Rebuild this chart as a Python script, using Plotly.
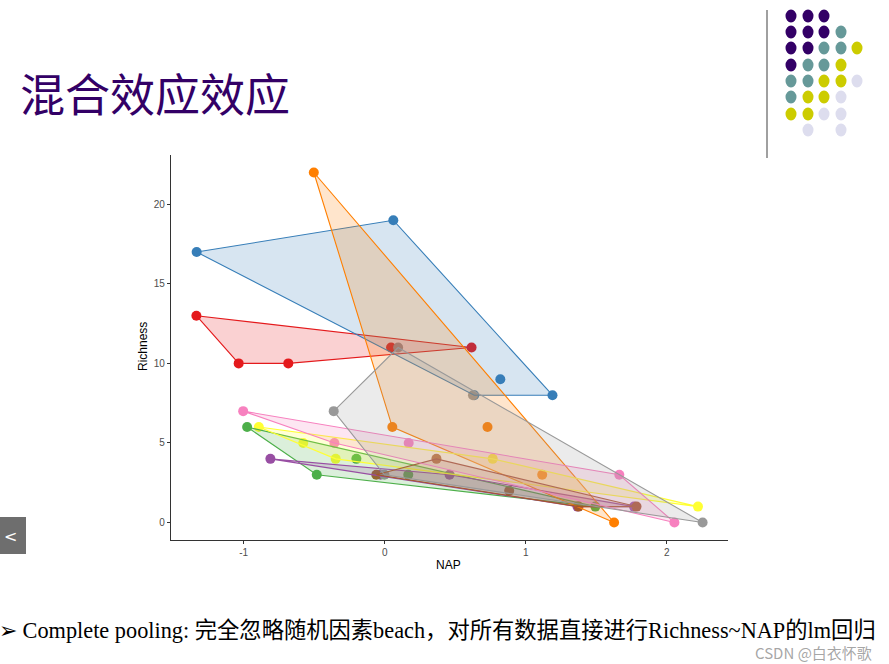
import plotly.graph_objects as go

# RIKZ data: beach, NAP, Richness
beach = [1]*5 + [2]*5 + [3]*5 + [4]*5 + [5]*5 + [6]*5 + [7]*5 + [8]*5 + [9]*5
nap = [0.045, -1.036, -1.336, 0.616, -0.684,
       1.190, 0.820, 0.635, 0.061, -1.334,
       -0.976, 1.494, -0.201, -0.482, 0.167,
       1.768, -0.030, 0.460, 1.367, -0.811,
       1.117, -0.503, 0.729, 1.627, 0.054,
       -0.578, -0.348, 2.222, -0.893, 0.766,
       0.883, 1.786, 1.375, -0.060, 0.367,
       -1.004, -0.357, 2.055, 1.664, 0.170,
       -0.002, -0.362, 0.095, 0.626, 2.255]
richness = [11, 10, 13, 11, 10,
            8, 9, 8, 19, 17,
            6, 1, 4, 3, 3,
            1, 3, 3, 1, 4,
            3, 22, 6, 0, 6,
            5, 4, 1, 6, 4,
            2, 1, 1, 3, 4,
            7, 5, 0, 3, 5,
            3, 7, 11, 8, 0]
colors = ["#E41A1C", "#377EB8", "#4DAF4A", "#984EA3", "#FF7F00",
          "#FFFF33", "#A65628", "#F781BF", "#999999"]

x_ticks = [-1, 0, 1, 2]
y_ticks = [0, 5, 10, 15, 20]

W, H = 889, 664

def px(x):
    return x / W

def py(y):
    return 1 - y / H

def hull(points):
    pts = sorted(set(points))
    if len(pts) <= 2:
        return pts
    def cross(o, a, b):
        return (a[0]-o[0])*(b[1]-o[1]) - (a[1]-o[1])*(b[0]-o[0])
    lower, upper = [], []
    for p in pts:
        while len(lower) >= 2 and cross(lower[-2], lower[-1], p) <= 0:
            lower.pop()
        lower.append(p)
    for p in reversed(pts):
        while len(upper) >= 2 and cross(upper[-2], upper[-1], p) <= 0:
            upper.pop()
        upper.append(p)
    return lower[:-1] + upper[:-1]

def rgba(hexc, a):
    h = hexc.lstrip("#")
    r, g, b = int(h[0:2], 16), int(h[2:4], 16), int(h[4:6], 16)
    return f"rgba({r},{g},{b},{a})"

fig = go.Figure()
beaches = sorted(set(beach))
for b in beaches:
    xs = [nap[i] for i in range(len(nap)) if beach[i] == b]
    ys = [richness[i] for i in range(len(nap)) if beach[i] == b]
    fig.add_trace(go.Scatter(x=xs, y=ys, mode="markers",
                             marker=dict(size=10, color=colors[b-1], line=dict(width=0)),
                             showlegend=False, hoverinfo="skip"))
for b in beaches:
    pts = [(nap[i], richness[i]) for i in range(len(nap)) if beach[i] == b]
    hp = hull(pts)
    hx = [p[0] for p in hp] + [hp[0][0]]
    hy = [p[1] for p in hp] + [hp[0][1]]
    fig.add_trace(go.Scatter(x=hx, y=hy, mode="lines", fill="toself",
                             fillcolor=rgba(colors[b-1], 0.2),
                             line=dict(color=colors[b-1], width=1.1),
                             showlegend=False, hoverinfo="skip"))

axis_common = dict(showgrid=False, zeroline=False, showline=True, linecolor="#333333",
                   linewidth=1.3, ticks="outside", ticklen=3, tickcolor="#333333",
                   tickfont=dict(family="Liberation Sans, Arial", size=10, color="#4D4D4D"))

fig.update_layout(
    width=W, height=H,
    margin=dict(l=0, r=0, t=0, b=0),
    paper_bgcolor="white", plot_bgcolor="white",
    xaxis=dict(domain=[px(171), px(728)], range=[-1.516, 2.435],
               tickvals=x_ticks, ticktext=[str(v) for v in x_ticks], **axis_common),
    yaxis=dict(domain=[py(540), py(155)], range=[-1.1, 23.1],
               tickvals=y_ticks, ticktext=[str(v) for v in y_ticks], **axis_common),
)

annotations = [
    dict(x=px(449), y=py(565), text="NAP", showarrow=False, xref="paper", yref="paper",
         xanchor="center", yanchor="middle",
         font=dict(family="Liberation Sans, Arial", size=12, color="black")),
    dict(x=px(143), y=py(347), text="Richness", showarrow=False, xref="paper", yref="paper",
         xanchor="center", yanchor="middle",
         textangle=-90, font=dict(family="Liberation Sans, Arial", size=12, color="black")),
    dict(x=px(18), y=py(93), text="混合效应效应", showarrow=False, xref="paper", yref="paper",
         xanchor="left", yanchor="middle",
         font=dict(family="Noto Sans CJK SC", size=45, color="#330066")),
    dict(x=px(-3), y=py(630), text="➢ Complete pooling: 完全忽略随机因素beach，对所有数据直接进行Richness~NAP的lm回归",
         showarrow=False, xref="paper", yref="paper", xanchor="left", yanchor="middle",
         font=dict(family="Liberation Serif, Noto Sans CJK SC", size=22.3, color="black")),
    dict(x=px(874), y=py(652), text="CSDN @白衣怀歌", showarrow=False, xref="paper", yref="paper",
         xanchor="right", yanchor="middle",
         font=dict(family="Noto Sans CJK SC", size=15, color="rgba(150,150,150,0.85)")),
    dict(x=px(10), y=py(536), text="<", showarrow=False, xref="paper", yref="paper",
         xanchor="center", yanchor="middle",
         font=dict(family="DejaVu Sans", size=16, color="white")),
]
fig.update_layout(annotations=annotations)

shapes = [
    dict(type="line", xref="paper", yref="paper", x0=px(767), x1=px(767), y0=py(10), y1=py(158),
         line=dict(color="#808080", width=1.5)),
    dict(type="rect", xref="paper", yref="paper", x0=px(-6), x1=px(26), y0=py(554), y1=py(517),
         fillcolor="#6E6E6E", line=dict(width=0)),
]

# decorative dot grid in the top-right corner
P, T, Y, L = "#330066", "#669999", "#CCCC00", "#DDDDEE"
dot_cols = [791, 808, 824, 841, 857]
dot_rows = [16, 32, 48, 65, 81, 97, 114, 130]
dot_grid = [
    [P, P, P, None, None],
    [P, P, P, T, None],
    [P, P, T, T, Y],
    [P, T, T, Y, None],
    [T, T, Y, Y, L],
    [T, Y, Y, L, None],
    [Y, Y, L, L, None],
    [None, L, None, L, None],
]
for r, row in enumerate(dot_grid):
    for c, col in enumerate(row):
        if col is None:
            continue
        cx, cy = dot_cols[c], dot_rows[r]
        shapes.append(dict(type="circle", xref="paper", yref="paper",
                           x0=px(cx-5.5), x1=px(cx+5.5), y0=py(cy+6.5), y1=py(cy-6.5),
                           fillcolor=col, line=dict(width=0)))
fig.update_layout(shapes=shapes)

fig.write_html("out.html", config={"displayModeBar": False},
               post_script="document.body.style.margin='0px';")
